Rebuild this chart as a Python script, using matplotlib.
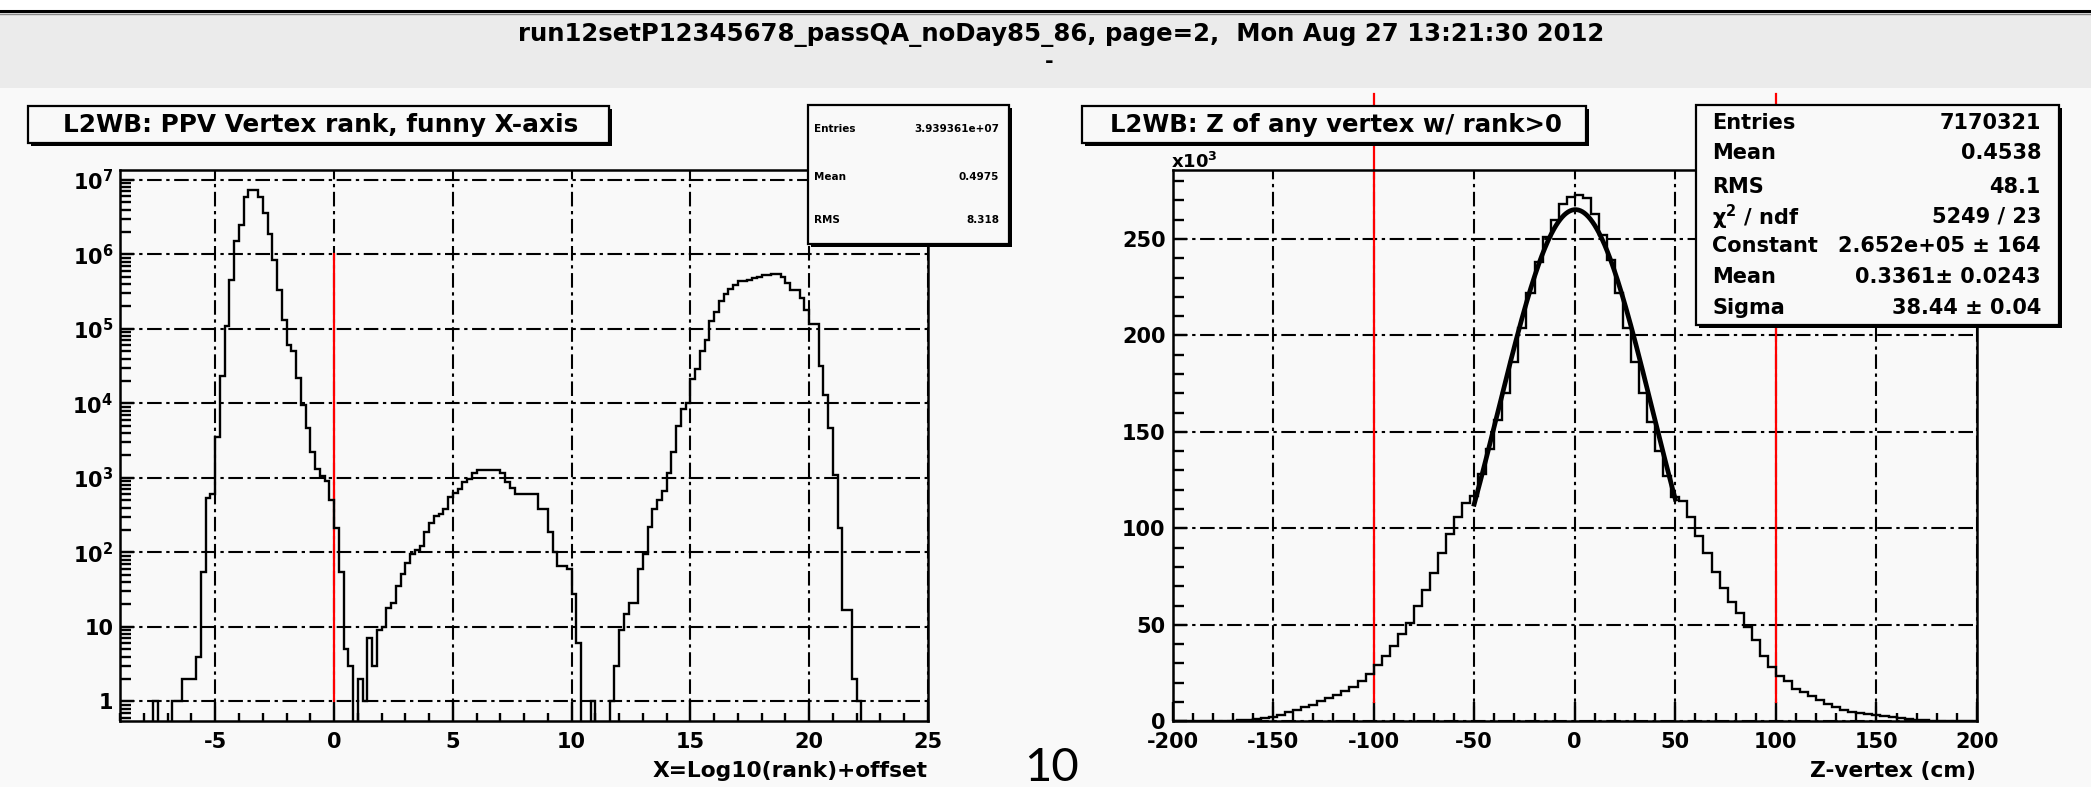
import numpy as np
import matplotlib
matplotlib.use("Agg")
import matplotlib.pyplot as plt
from matplotlib.patches import Rectangle
from matplotlib.lines import Line2D
from matplotlib.ticker import FixedLocator, FixedFormatter, MultipleLocator, LogLocator, NullFormatter

plt.rcParams['font.family'] = ['DejaVu Sans']
plt.rcParams['font.weight'] = 'bold'
plt.rcParams['axes.unicode_minus'] = False
plt.rcParams['mathtext.fontset'] = 'dejavusans'
plt.rcParams['mathtext.default'] = 'bf'

# ---------------- data ----------------
page_title = "run12setP12345678_passQA_noDay85_86, page=2,  Mon Aug 27 13:21:30 2012"
page_number = "10"

rank_title = "L2WB: PPV Vertex rank, funny X-axis"
rank_xlabel = "X=Log10(rank)+offset"
rank_range = (-9.0, 25.0)
rank_counts = [
    0, 0, 0, 0, 0, 0, 0, 1, 0, 0,
    0, 1, 1, 2, 2, 2, 4, 55, 530, 600,
    3500, 23000, 110000, 460000, 1500000, 2500000, 5900000, 7400000, 7400000, 5900000,
    3600000, 1900000, 850000, 330000, 130000, 60000, 50000, 22000, 9600, 4700,
    2200, 1300, 1050, 900, 500, 210, 55, 5, 3, 0,
    2, 1, 7, 3, 9, 10, 18, 21, 35, 52,
    72, 95, 107, 120, 186, 245, 310, 325, 380, 560,
    630, 710, 890, 980, 1170, 1290, 1290, 1290, 1290, 1290,
    1170, 890, 740, 600, 600, 600, 600, 600, 380, 380,
    186, 102, 65, 65, 59, 28, 6, 0, 0, 1,
    0, 0, 0, 1, 3, 9, 15, 21, 21, 59,
    95, 220, 380, 500, 660, 1170, 2240, 5000, 8500, 10000,
    21000, 29000, 50000, 71000, 129000, 170000, 240000, 295000, 347000, 389000,
    437000, 437000, 457000, 480000, 490000, 525000, 525000, 550000, 550000, 490000,
    417000, 331000, 331000, 263000, 182000, 115000, 115000, 32000, 13000, 4700,
    1100, 210, 17, 17, 2, 1, 0, 0, 0, 0,
    0, 0, 0, 0, 0, 0, 0, 0, 0, 0,
]
rank_cut_x = 0.0
rank_cut_y = (1.0, 1.0e6)
rank_xticks = [-5, 0, 5, 10, 15, 20, 25]
rank_yticks = [1, 10, 1e2, 1e3, 1e4, 1e5, 1e6, 1e7]
rank_yticklabels = ['1', '10', '$10^{2}$', '$10^{3}$', '$10^{4}$', '$10^{5}$', '$10^{6}$', '$10^{7}$']
rank_ylim = (0.54, 1.38e7)
rank_stats = [("Entries", "3.939361e+07"), ("Mean", "0.4975"), ("RMS", "8.318")]

z_title = "L2WB: Z of any vertex w/ rank>0"
z_xlabel = "Z-vertex (cm)"
z_range = (-200.0, 200.0)
# counts in units of 10^3
z_counts_k = [
    0, 0, 0, 0, 0, 0, 0.1, 0.3, 0.5, 0.8,
    1.1, 1.6, 2.4, 3.4, 4.6, 6.0, 7.2, 8.6, 10.4, 12.2,
    13.6, 15.6, 18.0, 21.0, 24.5, 29.0, 34.0, 39.0, 45.0, 51.0,
    60.0, 68.0, 77.0, 87.0, 97.0, 106.0, 113.0, 117.0, 128.0, 141.0,
    156.0, 170.0, 186.0, 204.0, 222.0, 238.0, 251.0, 260.0, 268.0, 272.0,
    273.0, 271.0, 263.0, 252.0, 239.0, 222.0, 204.0, 186.0, 170.0, 155.0,
    140.0, 127.0, 116.0, 114.0, 106.0, 96.0, 87.0, 77.5, 69.0, 62.0,
    56.0, 49.0, 42.0, 34.0, 28.0, 23.6, 21.0, 17.0, 15.0, 13.0,
    11.0, 9.0, 7.5, 6.0, 5.0, 4.2, 3.8, 3.4, 3.0, 2.4,
    1.9, 1.4, 0.9, 0.5, 0.2, 0, 0, 0, 0, 0,
]
fit_constant, fit_mean, fit_sigma = 2.652e5, 0.3361, 38.44
fit_range = (-50.0, 50.0)
z_cuts_x = [-100.0, 100.0]
z_cut_y = (10.0, 325.0)
z_xticks = [-200, -150, -100, -50, 0, 50, 100, 150, 200]
z_yticks = [0, 50, 100, 150, 200, 250]
z_ylim = (0, 286)
z_stats = [("Entries", "7170321"), ("Mean", "0.4538"), ("RMS", "48.1"),
           (r"$\chi^{2}$ / ndf", "5249 / 23"), ("Constant", "2.652e+05 \u00b1 164"),
           ("Mean", "0.3361\u00b1 0.0243"), ("Sigma", "38.44 \u00b1 0.04")]

# ---------------- layout helpers ----------------
W, H = 2091, 787
BG = '#f9f9f9'
fig = plt.figure(figsize=(W / 100, H / 100), dpi=100)
fig.patch.set_facecolor('white')

def fxy(x, y):
    return x / W, 1 - y / H

def box(x, y, w, h, shadow=3):
    if shadow:
        fig.add_artist(Rectangle(fxy(x + shadow, y + h + shadow), w / W, h / H,
                                 transform=fig.transFigure, facecolor='black',
                                 edgecolor='black', lw=0, zorder=5))
    fig.add_artist(Rectangle(fxy(x, y + h), w / W, h / H, transform=fig.transFigure,
                             facecolor=BG, edgecolor='black', lw=1.6, zorder=6))

# page background below the banner
fig.add_artist(Rectangle((0, 0), 1, 1 - 88 / H, transform=fig.transFigure,
                         facecolor=BG, edgecolor='none', zorder=-2))
# top banner
fig.add_artist(Rectangle(fxy(0, 88), 1, 76 / H, transform=fig.transFigure,
                         facecolor='#ebebeb', edgecolor='none', zorder=0))
fig.add_artist(Line2D([0, 1], [fxy(0, 11)[1]] * 2, transform=fig.transFigure,
                      color='black', lw=2.2, zorder=1))
fig.add_artist(Line2D([0, 1], [fxy(0, 14)[1]] * 2, transform=fig.transFigure,
                      color='#888888', lw=1.0, zorder=1))
fig.text(*fxy(1061, 35), page_title, ha='center', va='center', fontsize=17.6, zorder=7)
fig.text(*fxy(1049, 62), "-", ha='center', va='center', fontsize=15, zorder=7)

grid_style = dict(color='black', lw=1.5, ls=(0, (7, 2.2, 1.6, 2.2)))

# ---------------- left panel ----------------
axL = fig.add_axes([120.2 / W, 1 - 721.3 / H, (928 - 120.2) / W, (721.3 - 169.5) / H])
edges_r = np.linspace(rank_range[0], rank_range[1], len(rank_counts) + 1)
vals_r = np.array(rank_counts, dtype=float)
vals_r = np.where(vals_r > 0, vals_r, 1e-3)
axL.set_yscale('log')
axL.plot([rank_cut_x, rank_cut_x], rank_cut_y, color='red', lw=1.6, zorder=2)
axL.stairs(vals_r, edges_r, baseline=None, color='black', lw=1.7, zorder=3)
axL.set_xlim(*rank_range)
axL.set_ylim(*rank_ylim)
axL.xaxis.set_major_locator(FixedLocator(rank_xticks))
axL.xaxis.set_major_formatter(FixedFormatter([str(v) for v in rank_xticks]))
axL.xaxis.set_minor_locator(MultipleLocator(1))
axL.yaxis.set_major_locator(FixedLocator(rank_yticks))
axL.yaxis.set_major_formatter(FixedFormatter(rank_yticklabels))
axL.yaxis.set_minor_locator(LogLocator(base=10, subs=np.arange(2, 10), numticks=30))
axL.yaxis.set_minor_formatter(NullFormatter())
axL.grid(True, which='major', **grid_style)

# ---------------- right panel ----------------
axR = fig.add_axes([1172.5 / W, 1 - 721.3 / H, (1977 - 1172.5) / W, (721.3 - 169.5) / H])
edges_z = np.linspace(z_range[0], z_range[1], len(z_counts_k) + 1)
for zc in z_cuts_x:
    axR.plot([zc, zc], z_cut_y, color='red', lw=1.6, zorder=2, clip_on=False)
axR.stairs(z_counts_k, edges_z, baseline=None, color='black', lw=1.7, zorder=3)
xf = np.linspace(fit_range[0], fit_range[1], 200)
yf = fit_constant * np.exp(-0.5 * ((xf - fit_mean) / fit_sigma) ** 2) / 1000.0
axR.plot(xf, yf, color='black', lw=3.4, zorder=4)
axR.set_xlim(*z_range)
axR.set_ylim(*z_ylim)
axR.xaxis.set_major_locator(FixedLocator(z_xticks))
axR.xaxis.set_major_formatter(FixedFormatter([str(v) for v in z_xticks]))
axR.xaxis.set_minor_locator(MultipleLocator(10))
axR.yaxis.set_major_locator(FixedLocator(z_yticks))
axR.yaxis.set_major_formatter(FixedFormatter([str(v) for v in z_yticks]))
axR.yaxis.set_minor_locator(MultipleLocator(10))
axR.grid(True, which='major', **grid_style)

for ax in (axL, axR):
    ax.set_facecolor(BG)
    for s in ax.spines.values():
        s.set_linewidth(1.8)
    ax.tick_params(which='both', direction='in', top=False, right=False, width=1.7)
    ax.tick_params(axis='x', which='major', length=14, pad=8, labelsize=15)
    ax.tick_params(axis='x', which='minor', length=6)
    ax.tick_params(axis='y', which='major', length=10, pad=5, labelsize=15)
    ax.tick_params(axis='y', which='minor', length=8)

fig.text(*fxy(927.6, 771), rank_xlabel, ha='right', va='center', fontsize=15.7)
fig.text(*fxy(1976, 771), z_xlabel, ha='right', va='center', fontsize=15.7)
fig.text(*fxy(1171, 168), r"x10$^{3}$", ha='left', va='baseline', fontsize=13)

# title boxes
box(28, 106, 581, 37)
fig.text(*fxy(63, 125), rank_title, ha='left', va='center', fontsize=17.8, zorder=7)
box(1081.5, 105.7, 504.5, 37.6)
fig.text(*fxy(1110, 125), z_title, ha='left', va='center', fontsize=17.6, zorder=7)

# stats boxes
box(808, 105, 201, 139)
for (lab, val), yy in zip(rank_stats, [129, 177, 220]):
    fig.text(*fxy(814, yy), lab, ha='left', va='center', fontsize=7.5, zorder=7)
    fig.text(*fxy(999, yy), val, ha='right', va='center', fontsize=7.5, zorder=7)
box(1696, 105, 363, 220)
for (lab, val), yy in zip(z_stats, [123, 153, 187, 217, 246, 277, 308]):
    fig.text(*fxy(1712, yy), lab, ha='left', va='center', fontsize=15, zorder=7)
    fig.text(*fxy(2041, yy), val, ha='right', va='center', fontsize=15, zorder=7)

fig.text(*fxy(1052, 768), page_number, ha='center', va='center', fontsize=34,
         family=['Lato', 'DejaVu Sans'], fontweight='normal', color='black')

fig.savefig('out.png', dpi=100, facecolor=fig.get_facecolor())
